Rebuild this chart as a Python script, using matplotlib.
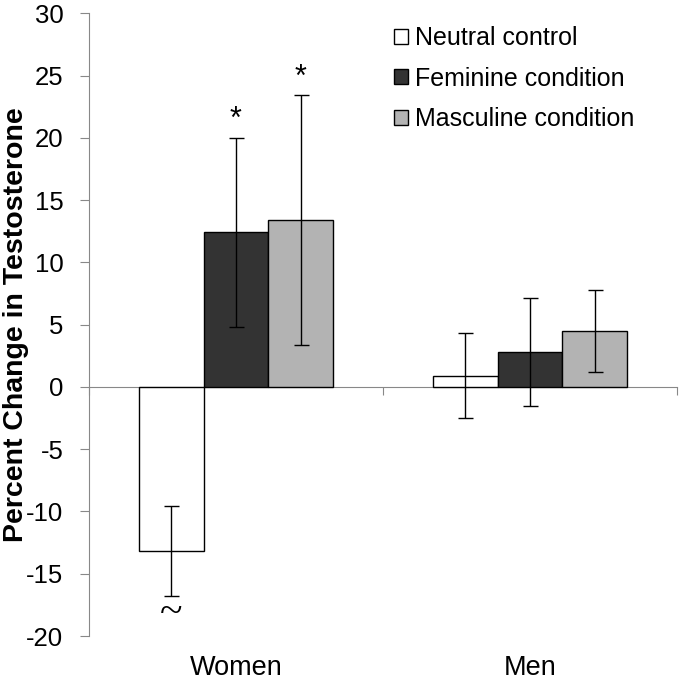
import matplotlib
matplotlib.use("Agg")
import matplotlib.pyplot as plt
import matplotlib.transforms as mtransforms
import numpy as np

plt.rcParams['font.family'] = ['Liberation Sans', 'DejaVu Sans']
plt.rcParams['axes.unicode_minus'] = False

groups = ["Women", "Men"]
conditions = ["Neutral control", "Feminine condition", "Masculine condition"]
colours = ["white", "#333333", "#b3b3b3"]
# percent change per condition, [women, men]
means = [[-13.2, 0.9], [12.4, 2.8], [13.4, 4.5]]
errors = [[3.6, 3.4], [7.6, 4.35], [10.0, 3.3]]
# marks above / below bars: (condition index, group index, symbol)
stars = [(1, 0, "*"), (2, 0, "*")]
tildes = [(0, 0, "~")]

fig = plt.figure(figsize=(6.8, 6.82), dpi=100)
ax = fig.add_axes([89/680, 46/682, 588/680, 622.7/682])

x = np.arange(len(groups))
width = 0.221
offsets = [-width, 0, width]

for i in range(3):
    ax.bar(x + offsets[i], means[i], width, color=colours[i], edgecolor='black',
           linewidth=1.0, label=conditions[i], zorder=2)
    ax.errorbar(x + offsets[i], means[i], yerr=errors[i], fmt='none', ecolor='black',
                elinewidth=1.0, capsize=5.4, capthick=1.0, zorder=3)

for ci, gi, s in stars:
    top = means[ci][gi] + errors[ci][gi]
    ax.annotate(s, (x[gi] + offsets[ci], top), xytext=(0, 7), textcoords='offset points',
                ha='center', va='baseline', fontsize=22)
for ci, gi, s in tildes:
    bot = means[ci][gi] - errors[ci][gi]
    ax.annotate(s, (x[gi] + offsets[ci], bot), xytext=(0, -12), textcoords='offset points',
                ha='center', va='center', fontsize=30, family='Liberation Serif')

ax.set_xlim(-0.5, 1.5)
ax.set_ylim(-20, 30)
ax.set_yticks(range(-20, 31, 5))
ax.set_xticks([-0.5, 0.5, 1.5])
ax.set_xticklabels([])

grey = "#888888"
for s in ['top', 'right']:
    ax.spines[s].set_visible(False)
ax.spines['bottom'].set_position(('data', 0))
ax.spines['bottom'].set_color(grey)
ax.spines['left'].set_color(grey)
ax.spines['bottom'].set_zorder(1)
ax.tick_params(axis='y', direction='out', length=6.5, color=grey, labelsize=18.5, pad=12)
ax.tick_params(axis='x', direction='out', length=5.8, color=grey)

trans = mtransforms.blended_transform_factory(ax.transData, fig.transFigure)
for gi, g in enumerate(groups):
    ax.text(x[gi], 1 - 668/682, g, transform=trans, ha='center', va='center', fontsize=19.5)

ax.set_ylabel("Percent Change in Testosterone", fontsize=20.5, fontweight='bold')
ax.yaxis.set_label_coords((29 - 89)/588, 0.5)

ax.legend(loc='upper left', bbox_to_anchor=(394/680, 1 - 26/682), bbox_transform=fig.transFigure,
          frameon=False, fontsize=18, borderpad=0, borderaxespad=0, handlelength=0.55,
          handleheight=0.55, handletextpad=0.3, labelspacing=0.66)

fig.savefig("out.png", dpi=100)
